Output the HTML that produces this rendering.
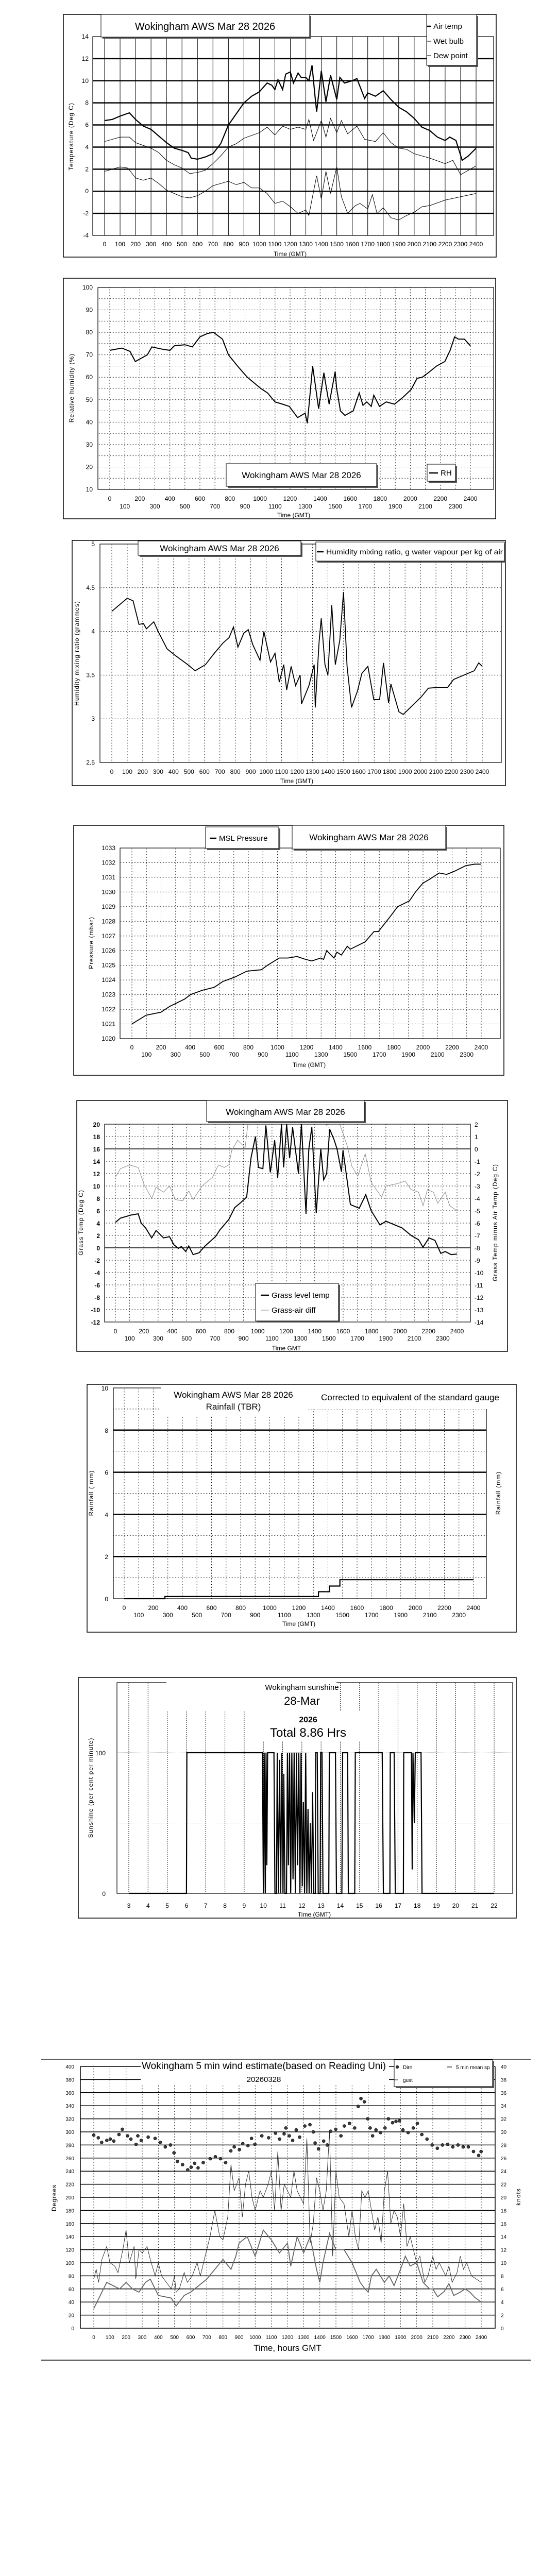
<!DOCTYPE html>
<html><head><meta charset="utf-8"><title>Wokingham AWS Mar 28 2026</title>
<style>
html,body{margin:0;padding:0;background:#fff;width:1050px;height:5085px;overflow:hidden;}
svg{display:block;}
text{font-family:"Liberation Sans Narrow","Liberation Sans",sans-serif;fill:#000;}
.tk{font-size:12px;}
.tks{font-size:10px;}
.ttl{font-size:20px;}
.ax{font-family:"Liberation Sans",sans-serif;font-size:12px;letter-spacing:1px;}
</style></head>
<body>
<svg id="page" width="1050" height="5085" viewBox="0 0 1050 5085" xmlns="http://www.w3.org/2000/svg">
<defs>
<clipPath id="clip5"><rect x="203" y="2182" width="710" height="384"/></clipPath>
<clipPath id="clip8"><rect x="156" y="4000" width="805" height="519"/></clipPath>
</defs>

<!-- CHART 1 -->
<g>
<rect x="123" y="28" width="840" height="471" fill="none" stroke="#000" stroke-width="1.5"/>
<g id="c1"></g>
<rect x="180" y="71" width="778" height="386" fill="none" stroke="#000" stroke-width="1.2"/>
<text class="ax" transform="translate(142,265) rotate(-90)" text-anchor="middle">Temperature (Deg C)</text>
<text class="tk" x="563" y="497" text-anchor="middle">Time (GMT)</text>
<rect x="199" y="31" width="405" height="44" fill="#555"/>
<rect x="196" y="28" width="405" height="44" fill="#fff" stroke="#000"/>
<text class="ttl" x="398" y="58" text-anchor="middle">Wokingham AWS Mar 28 2026</text>
<rect x="831" y="31" width="97" height="99" fill="#555"/>
<rect x="828" y="28" width="97" height="99" fill="#fff" stroke="#000"/>
<line x1="829" x2="837" y1="51" y2="51" stroke="#000" stroke-width="2.5"/>
<text x="841" y="56" font-size="15">Air temp</text>
<line x1="829" x2="837" y1="80" y2="80" stroke="#000" stroke-width="1"/>
<text x="841" y="85" font-size="15">Wet bulb</text>
<line x1="829" x2="837" y1="108" y2="108" stroke="#000" stroke-width="1"/>
<text x="841" y="113" font-size="15">Dew point</text>
</g>

<!-- CHART 2 -->
<g>
<rect x="123" y="540" width="839" height="467" fill="none" stroke="#000" stroke-width="1.5"/>
<g id="c2"></g>
<rect x="190" y="558" width="768" height="392" fill="none" stroke="#000" stroke-width="1.2"/>
<text class="ax" transform="translate(143,753) rotate(-90)" text-anchor="middle">Relative humidity (%)</text>
<text class="tk" x="570" y="1004" text-anchor="middle">Time (GMT)</text>
<rect x="442" y="903" width="292" height="44" fill="#555"/>
<rect x="439" y="900" width="292" height="44" fill="#fff" stroke="#000"/>
<text x="585" y="928" font-size="17" text-anchor="middle">Wokingham AWS Mar 28 2026</text>
<rect x="832" y="904" width="55" height="33" fill="#555"/>
<rect x="829" y="901" width="55" height="33" fill="#fff" stroke="#000"/>
<line x1="833" x2="850" y1="918" y2="918" stroke="#000" stroke-width="2.5"/>
<text x="855" y="923" font-size="15">RH</text>
</g>

<!-- CHART 3 -->
<g>
<rect x="140" y="1049" width="841" height="476" fill="none" stroke="#000" stroke-width="1.5"/>
<g id="c3"></g>
<rect x="194" y="1056" width="779" height="424" fill="none" stroke="#000" stroke-width="1.2"/>
<text class="ax" transform="translate(153,1268) rotate(-90)" text-anchor="middle">Humidity mixing ratio (grammes)</text>
<text class="tk" x="576" y="1520" text-anchor="middle">Time (GMT)</text>
<rect x="271" y="1053" width="316" height="28" fill="#555"/>
<rect x="268" y="1050" width="316" height="28" fill="#fff" stroke="#000"/>
<text x="426" y="1070" font-size="17" text-anchor="middle">Wokingham AWS Mar 28 2026</text>
<rect x="616" y="1055" width="366" height="37" fill="#555"/>
<rect x="613" y="1052" width="366" height="37" fill="#fff" stroke="#000"/>
<line x1="615" x2="628" y1="1071" y2="1071" stroke="#000" stroke-width="2.5"/>
<text x="633" y="1076" font-size="14" textLength="343" lengthAdjust="spacingAndGlyphs">Humidity mixing ratio, g water vapour per kg of air</text>
</g>

<!-- CHART 4 -->
<g>
<rect x="143" y="1602" width="835" height="485" fill="none" stroke="#000" stroke-width="1.5"/>
<g id="c4"></g>
<rect x="233" y="1646" width="738" height="370" fill="none" stroke="#000" stroke-width="1.2"/>
<text class="ax" transform="translate(181,1830) rotate(-90)" text-anchor="middle">Pressure (mbar)</text>
<text class="tk" x="600" y="2071" text-anchor="middle">Time (GMT)</text>
<rect x="402" y="1608" width="142" height="42" fill="#555"/>
<rect x="399" y="1605" width="142" height="42" fill="#fff" stroke="#000"/>
<line x1="407" x2="420" y1="1627" y2="1627" stroke="#000" stroke-width="2.5"/>
<text x="425" y="1632" font-size="15">MSL Pressure</text>
<rect x="570" y="1605" width="298" height="46" fill="#555"/>
<rect x="567" y="1602" width="298" height="46" fill="#fff" stroke="#000"/>
<text x="716" y="1631" font-size="17" text-anchor="middle">Wokingham AWS Mar 28 2026</text>
</g>

<!-- CHART 5 -->
<g>
<rect x="149" y="2136" width="836" height="487" fill="none" stroke="#000" stroke-width="1.5"/>
<g id="c5"></g>
<rect x="203" y="2182" width="710" height="384" fill="none" stroke="#000" stroke-width="1.2"/>
<text class="ax" transform="translate(161,2373) rotate(-90)" text-anchor="middle">Grass Temp (Deg C)</text>
<text class="ax" transform="translate(965,2373) rotate(-90)" text-anchor="middle">Grass Temp minus Air Temp (Deg C)</text>
<text class="tk" x="556" y="2621" text-anchor="middle">Time GMT</text>
<rect x="404" y="2139" width="306" height="41" fill="#555"/>
<rect x="401" y="2136" width="306" height="41" fill="#fff" stroke="#000"/>
<text x="554" y="2164" font-size="17" text-anchor="middle">Wokingham AWS Mar 28 2026</text>
<rect x="499" y="2494" width="161" height="73" fill="#555"/>
<rect x="496" y="2491" width="161" height="73" fill="#fff" stroke="#000"/>
<line x1="506" x2="522" y1="2514" y2="2514" stroke="#000" stroke-width="2.5"/>
<text x="527" y="2519" font-size="15">Grass level temp</text>
<line x1="506" x2="522" y1="2543" y2="2543" stroke="#888" stroke-width="1"/>
<text x="527" y="2548" font-size="15">Grass-air diff</text>
</g>

<!-- CHART 6 -->
<g>
<rect x="169" y="2687" width="833" height="481" fill="none" stroke="#000" stroke-width="1.5"/>
<g id="c6"></g>
<rect x="220" y="2694" width="724" height="409" fill="none" stroke="#000" stroke-width="1.2"/>
<rect x="312" y="2690" width="285" height="58" fill="#fff"/>
<rect x="597" y="2689" width="404" height="46" fill="#fff"/>
<text x="453" y="2713" font-size="17" text-anchor="middle">Wokingham AWS Mar 28 2026</text>
<text x="453" y="2736" font-size="17" text-anchor="middle">Rainfall (TBR)</text>
<text x="796" y="2718" font-size="17" text-anchor="middle">Corrected to equivalent of the standard gauge</text>
<text class="ax" transform="translate(181,2898) rotate(-90)" text-anchor="middle">Rainfall ( mm)</text>
<text class="ax" transform="translate(971,2898) rotate(-90)" text-anchor="middle">Rainfall (mm)</text>
<text class="tk" x="580" y="3156" text-anchor="middle">Time (GMT)</text>
</g>

<!-- CHART 7 -->
<g>
<rect x="152" y="3256" width="850" height="467" fill="none" stroke="#000" stroke-width="1.5"/>
<g id="c7"></g>
<rect x="227" y="3266" width="768" height="409" fill="none" stroke="#000" stroke-width="1.2"/>
<rect x="323" y="3262" width="330" height="60" fill="#fff"/>
<rect x="500" y="3322" width="206" height="57" fill="#fff"/>
<text x="586" y="3280" font-size="15" text-anchor="middle">Wokingham sunshine</text>
<text x="586" y="3309" font-size="22" text-anchor="middle">28-Mar</text>
<text x="598" y="3343" font-size="16" font-weight="bold" text-anchor="middle">2026</text>
<text x="598" y="3371" font-size="24" text-anchor="middle">Total 8.86 Hrs</text>
<text class="ax" transform="translate(180,3470) rotate(-90)" text-anchor="middle">Sunshine (per cent per minute)</text>
<text class="tk" x="610" y="3720" text-anchor="middle">Time (GMT)</text>
</g>

<!-- CHART 8 -->
<g>
<line x1="80" x2="1030" y1="3997" y2="3997" stroke="#000" stroke-width="1.2"/>
<line x1="80" x2="1030" y1="4581" y2="4581" stroke="#000" stroke-width="1.5"/>
<g id="c8"></g>
<rect x="273" y="3999" width="482" height="48" fill="#fff"/>
<text x="512" y="4016" font-size="19" text-anchor="middle">Wokingham 5 min wind estimate(based on Reading Uni)</text>
<text x="512" y="4041" font-size="15" text-anchor="middle">20260328</text>
<rect x="768" y="4001" width="191" height="52" fill="#555"/>
<rect x="765" y="3998" width="191" height="52" fill="#fff" stroke="#000"/>
<circle cx="771" cy="4012" r="2.8" fill="#333" stroke="#000" stroke-width="0.6"/>
<text x="782" y="4016" font-size="10">Dirn</text>
<line x1="868" x2="877" y1="4012" y2="4012" stroke="#666" stroke-width="2"/>
<text x="885" y="4016" font-size="10">5 min mean sp</text>
<line x1="765" x2="773" y1="4037" y2="4037" stroke="#000" stroke-width="1"/>
<text x="782" y="4041" font-size="10">gust</text>
<text class="ax" transform="translate(109,4266) rotate(-90)" text-anchor="middle" font-size="15">Degrees</text>
<text class="ax" transform="translate(1010,4264) rotate(-90)" text-anchor="middle" font-size="15">knots</text>
<text x="558" y="4563" font-size="17" text-anchor="middle">Time, hours GMT</text>
</g>
</svg>

<script>
// ---------- DATA ----------
const hourTicks = [0,100,200,300,400,500,600,700,800,900,1000,1100,1200,1300,1400,1500,1600,1700,1800,1900,2000,2100,2200,2300,2400];
const evenTicks = [0,200,400,600,800,1000,1200,1400,1600,1800,2000,2200,2400];
const oddTicks = [100,300,500,700,900,1100,1300,1500,1700,1900,2100,2300];

// Chart 1 temperature
const tempYTicks = [14,12,10,8,6,4,2,0,-2,-4];
const airT = [0,50,100,160,200,250,300,350,400,450,500,540,560,600,650,700,750,800,850,900,950,1000,1050,1080,1100,1120,1150,1170,1200,1220,1250,1270,1300,1320,1340,1360,1370,1400,1430,1460,1500,1520,1550,1600,1630,1680,1700,1750,1800,1850,1900,1950,2000,2050,2100,2150,2200,2230,2270,2310,2350,2400];
const airV = [6.4,6.5,6.8,7.1,6.5,5.9,5.6,5.0,4.4,3.9,3.7,3.5,3.0,2.9,3.1,3.4,4.3,6.0,7.0,8.0,8.6,9.0,9.8,9.6,9.2,10.1,9.2,10.6,10.8,9.8,10.7,10.3,10.3,10.0,11.4,8.5,7.2,10.9,8.1,10.5,8.3,10.3,9.8,10.0,10.2,8.4,8.9,8.6,9.1,8.3,7.6,7.2,6.6,5.8,5.5,4.9,4.6,4.9,4.6,2.8,3.2,3.9];
const wetT = [0,100,160,200,300,350,400,450,500,550,600,650,700,750,800,850,900,1000,1050,1100,1150,1200,1250,1300,1320,1350,1400,1430,1460,1500,1530,1570,1630,1680,1750,1800,1850,1900,1950,2000,2100,2200,2250,2300,2400];
const wetV = [4.5,4.9,4.9,4.4,3.9,3.5,2.8,2.4,2.1,1.6,1.7,1.9,2.5,3.2,4.0,4.3,4.8,5.3,5.8,5.1,5.9,5.6,5.8,5.6,6.5,4.6,6.4,4.9,6.6,5.3,6.4,5.2,5.9,4.7,4.5,5.3,4.4,3.9,3.8,3.4,3.0,2.5,2.8,1.5,2.3];
const dewT = [0,100,150,200,250,300,350,400,450,500,550,600,650,700,750,800,850,900,950,1000,1050,1100,1150,1200,1250,1300,1320,1350,1370,1400,1430,1460,1500,1530,1570,1620,1650,1700,1730,1760,1800,1850,1900,1950,2000,2050,2100,2200,2300,2400];
const dewV = [1.8,2.2,2.1,1.2,1.0,1.2,0.7,0.1,-0.2,-0.5,-0.6,-0.4,0.0,0.5,0.7,0.9,0.6,0.8,0.3,0.3,-0.2,-1.1,-0.9,-1.4,-2.0,-1.7,-2.2,0.0,1.4,-0.7,1.8,-0.2,2.2,-0.5,-2.0,-1.3,-1.1,-1.6,-0.3,-2.0,-1.5,-2.4,-2.6,-2.2,-1.9,-1.4,-1.3,-0.8,-0.5,-0.2];

// Chart 2 RH
const rhYTicks = [100,90,80,70,60,50,40,30,20,10];
const rhT = [0,80,135,170,250,280,350,400,430,500,550,600,650,690,750,790,850,915,1005,1050,1100,1150,1195,1250,1300,1315,1350,1390,1425,1460,1500,1510,1535,1565,1620,1660,1685,1710,1740,1757,1795,1840,1895,1950,2005,2045,2080,2120,2175,2230,2265,2295,2320,2360,2400];
const rhV = [72,73,71.5,67,70,73.5,72.5,72,74,74.5,73.5,78,79.5,80,77,70,65,60,55,53,49,48,47,42,44,39.5,65,46,62,48,62.5,55,45,43,45,53,47.5,49,47,52,47,49,48,51,54.5,59.5,60,62,65,67,72,78,77,77,74];

// Chart 3 mixing ratio
const mixYTicks = [5,4.5,4,3.5,3,2.5];
const mixT = [0,100,138,176,205,224,272,300,358,415,492,540,607,664,722,760,788,817,855,884,913,960,985,1028,1057,1085,1114,1133,1162,1191,1220,1229,1277,1311,1318,1343,1357,1381,1400,1425,1448,1477,1501,1524,1553,1592,1620,1659,1697,1735,1760,1793,1808,1860,1888,1946,2004,2051,2118,2176,2214,2281,2348,2377,2400];
const mixV = [4.23,4.38,4.35,4.08,4.09,4.03,4.11,4.00,3.80,3.72,3.62,3.55,3.62,3.75,3.87,3.93,4.05,3.82,3.98,4.02,3.85,3.67,4.00,3.65,3.75,3.42,3.62,3.33,3.60,3.38,3.50,3.17,3.38,3.62,3.13,3.88,4.15,3.62,3.50,4.30,3.62,3.90,4.45,3.60,3.13,3.32,3.52,3.60,3.22,3.22,3.64,3.18,3.40,3.08,3.05,3.15,3.25,3.35,3.36,3.36,3.45,3.50,3.55,3.64,3.60];

// Chart 4 pressure
const presYTicks = [1033,1032,1031,1030,1029,1028,1027,1026,1025,1024,1023,1022,1021,1020];
const presT = [0,98,199,260,362,402,484,565,626,707,789,890,931,1012,1073,1134,1195,1236,1297,1317,1338,1388,1409,1439,1480,1500,1602,1663,1693,1765,1826,1907,1948,1999,2050,2111,2162,2213,2294,2355,2400];
const presV = [1021.0,1021.6,1021.8,1022.2,1022.7,1023.0,1023.3,1023.5,1023.9,1024.2,1024.6,1024.7,1025.0,1025.5,1025.5,1025.6,1025.4,1025.3,1025.5,1025.4,1026.0,1025.5,1025.9,1025.7,1026.3,1026.1,1026.6,1027.3,1027.3,1028.2,1029.0,1029.4,1030.0,1030.6,1030.9,1031.3,1031.2,1031.4,1031.8,1031.9,1031.9];

// Chart 5 grass
const grassYTicks = [20,18,16,14,12,10,8,6,4,2,0,-2,-4,-6,-8,-10,-12];
const diffYTicks = [2,1,0,-1,-2,-3,-4,-5,-6,-7,-8,-9,-10,-11,-12,-13,-14];
const grT = [0,35,110,160,181,213,255,286,338,380,411,442,463,494,515,546,588,630,703,734,797,838,880,922,953,984,1005,1036,1057,1088,1119,1140,1167,1182,1203,1224,1245,1286,1307,1339,1359,1380,1411,1443,1463,1484,1505,1536,1557,1588,1599,1651,1713,1759,1797,1859,1901,1963,2015,2078,2130,2161,2203,2245,2286,2317,2359,2400];
const grV = [4.1,4.8,5.3,5.5,4.0,3.2,1.6,2.8,1.6,1.8,0.5,-0.1,0.2,-0.6,0.3,-1.1,-0.8,0.3,1.8,2.9,4.6,6.5,7.3,8.2,14.6,18.0,13.0,12.8,19.8,12.2,17.4,11.3,20,13,20,14.5,19.5,12.0,20,5.5,16,19.5,5.6,16,11,12,19.2,17.5,16.0,12.3,15.8,7.0,6.4,8.6,6.0,3.7,4.3,3.7,3.2,2.0,1.3,0.1,1.6,1.2,-0.9,-0.6,-1.1,-1.0];
const dfT = [0,35,98,160,202,255,286,338,380,421,473,515,546,609,682,724,765,797,818,859,911,932,1005,1213,1421,1484,1546,1630,1661,1703,1755,1797,1870,1901,1984,2036,2078,2130,2161,2192,2234,2265,2317,2349,2400];
const dfV = [-2.3,-1.6,-1.3,-1.5,-2.9,-4.0,-3.1,-3.5,-3.0,-4.1,-4.2,-3.4,-4.1,-3.0,-2.3,-1.3,-1.5,-1.3,-0.1,0.7,0.1,2.1,3,3,3,1.9,3,0.2,-1.4,-2.2,-0.4,-2.7,-3.9,-3.0,-2.8,-2.6,-3.3,-3.5,-4.6,-3.3,-3.5,-4.4,-3.5,-4.6,-5.0];

// Chart 6 rainfall
const rainYTicks = [10,8,6,4,2,0];
const rainT = [0,280,280,1335,1335,1410,1410,1482,1482,2400];
const rainV = [0,0,0.1,0.1,0.33,0.33,0.6,0.6,0.9,0.9];

// Chart 7 sunshine
const sunXTicks = [3,4,5,6,7,8,9,10,11,12,13,14,15,16,17,18,19,20,21,22];
const sunYTicks = [100,0];
const sunT = [3,6,6.02,9.95,10.0,10.04,10.1,10.14,10.18,10.22,10.55,10.6,10.68,10.72,10.78,10.84,10.9,10.96,11.02,11.06,11.12,11.2,11.25,11.3,11.36,11.42,11.48,11.54,11.6,11.66,11.72,11.78,11.84,11.9,11.96,12.02,12.08,12.14,12.2,12.26,12.32,12.38,12.44,12.5,12.56,12.62,12.7,12.72,12.8,12.85,12.95,12.98,13.05,13.1,13.4,13.43,13.75,13.8,14.08,14.12,14.38,14.42,14.75,14.78,16.18,16.24,16.58,16.6,16.8,16.86,17.28,17.3,17.7,17.74,17.78,17.85,17.9,18.2,18.25,22];
const sunV = [0,0,100,100,0,100,0,100,20,100,100,0,0,100,0,95,0,100,0,85,0,0,100,20,100,0,100,10,100,0,100,20,100,0,100,5,65,0,100,0,60,0,50,0,72,0,0,100,100,0,0,100,100,0,0,100,100,0,0,100,100,0,0,100,100,0,0,100,100,0,0,100,100,17,100,50,100,100,0,0];

// Chart 8 wind
const degYTicks = [400,380,360,340,320,300,280,260,240,220,200,180,160,140,120,100,80,60,40,20,0];
const knotYTicks = [40,38,36,34,32,30,28,26,24,22,20,18,16,14,12,10,8,6,4,2,0];
const dirT = [0,28,49,81,102,124,156,177,209,230,262,273,294,337,380,412,443,475,497,518,550,582,603,625,646,678,721,753,785,817,849,870,902,923,955,977,998,1041,1083,1126,1151,1179,1190,1211,1232,1254,1275,1307,1339,1360,1371,1392,1424,1446,1467,1499,1531,1552,1584,1616,1638,1655,1676,1697,1712,1727,1748,1776,1804,1825,1851,1872,1893,1915,1947,1979,2004,2032,2064,2096,2128,2160,2192,2224,2256,2288,2320,2352,2384,2399];
const dirV = [295,291,284,287,289,286,296,304,294,289,281,294,287,292,290,284,277,280,268,255,250,242,246,252,245,253,259,262,259,253,271,277,273,282,279,290,281,294,291,298,289,297,306,294,287,303,292,309,311,300,283,274,286,280,301,304,294,309,313,306,339,351,346,320,306,294,303,299,306,320,314,316,317,303,299,306,313,296,289,280,275,280,281,277,280,277,277,270,264,270];
const gustT = [0,15,30,50,80,100,130,150,180,200,220,250,260,280,300,330,350,380,400,420,450,480,500,510,530,560,580,610,640,660,700,720,750,780,800,830,850,870,900,920,940,960,980,1000,1030,1050,1080,1100,1120,1140,1160,1180,1200,1220,1240,1260,1280,1300,1320,1340,1360,1380,1400,1420,1440,1460,1480,1500,1520,1550,1580,1600,1620,1640,1660,1680,1700,1720,1740,1760,1780,1800,1820,1840,1860,1880,1900,1920,1940,1960,1980,2000,2020,2050,2070,2100,2120,2140,2160,2180,2200,2220,2250,2270,2290,2310,2340,2370,2400];
const gustV = [7.5,9,7,10.5,12.5,10,9.5,8.5,12,15,10,12.5,7.5,12,11.5,12.5,10.5,8,10,8,7,6,8,5.5,6,8.5,7,8,10,8,12,14,18,14,13.5,17,25,21,23,17,22,24,20,18,21,20,22,24,18,27,18,22,21,20,24,21,20,19,29,13,16,23,21,18,21,30,11,24,20,19,14,18,14,12,21,20,21,18,15,17,13,21,24,16,18,17,14,19,12.5,14,12,10,11,7,8,11,9,10,9,8,9.5,7,8.5,11,9,10,8,7.5,7];
const meanT = [0,30,60,80,120,160,200,240,280,320,350,380,400,440,480,510,560,600,650,700,750,800,850,880,900,950,1000,1050,1100,1150,1200,1220,1260,1300,1340,1380,1400,1420,1460,1500,1550,1600,1650,1680,1700,1720,1750,1800,1830,1860,1900,1930,1960,2000,2040,2080,2100,2130,2170,2200,2230,2270,2300,2330,2360,2400];
const meanV = [3,4.5,6,7,6.5,6,7,6,5.5,7,7.5,6,5,4.8,4.6,3.4,5.0,5.5,6.5,7.5,9,10.5,9,11,13,14,11,15,13.5,11.5,13,9.5,14,11.5,14,9,7,10,14.5,12,12,10,7,6,5.5,8,9,7,8,6.5,9,11,9.5,10,7,6,6,4.8,5.6,6.8,5.0,5.5,6,5.5,4.7,4];

// ---------- HELPERS ----------
const NS = 'http://www.w3.org/2000/svg';
function mk(tag, a, parent){ const e=document.createElementNS(NS,tag); for(const k in a) e.setAttribute(k,a[k]); parent.appendChild(e); return e; }
function lin(d0,d1,p0,p1){ return v => p0+(v-d0)*(p1-p0)/(d1-d0); }
function pathD(xs,ys,X,Y){ return xs.map((t,i)=>(i?'L':'M')+X(t).toFixed(1)+','+Y(ys[i]).toFixed(1)).join(''); }
function txt(parent,x,y,s,cls,anchor,extra){ const t=mk('text',Object.assign({x:x,y:y,class:cls,'text-anchor':anchor},extra||{}),parent); t.textContent=s; return t; }

// ---------- CHART 1 ----------
(function(){
  const g=document.getElementById('c1');
  const X=lin(0,2400,203,924), Y=lin(-4,14,457,71);
  hourTicks.forEach(t=>{
    const l=mk('line',{x1:X(t),x2:X(t),y1:71,y2:457,stroke:'#000','stroke-width':1},g);
    
    
    const s=txt(g,X(t),478,String(t),'tk','middle');
    
    
  });
  tempYTicks.forEach(v=>{
    if(v!==14 && v!==-4){
      const l=mk('line',{x1:180,x2:958,y1:Y(v),y2:Y(v),stroke:'#000','stroke-width':2.5},g);
      
      
    }
    const s=txt(g,172,Y(v)+4,String(v),'tk','end');
    
    
  });
  const p1=mk('path',{d:pathD(dewT,dewV,X,Y),fill:'none',stroke:'#000','stroke-width':1},g);
  
  
  const p2=mk('path',{d:pathD(wetT,wetV,X,Y),fill:'none',stroke:'#000','stroke-width':1},g);
  
  
  const p3=mk('path',{d:pathD(airT,airV,X,Y),fill:'none',stroke:'#000','stroke-width':2.2},g);
  
  
})();

// ---------- CHART 2 ----------
(function(){
  const g=document.getElementById('c2');
  const X=lin(0,2400,213,913), Y=lin(10,100,950,558);
  hourTicks.forEach(t=>{
    const l=mk('line',{x1:X(t),x2:X(t),y1:558,y2:950,stroke:'#000','stroke-width':1,'stroke-dasharray':'1,2'},g);
    
    
  });
  evenTicks.forEach(t=>{
    const s=txt(g,X(t),972,String(t),'tk','middle');
    
    
  });
  oddTicks.forEach(t=>{
    const s=txt(g,X(t),987,String(t),'tk','middle');
    
    
  });
  rhYTicks.forEach(v=>{
    [v, v-5].forEach(w=>{
      if(w>10 && w<100){
        const l=mk('line',{x1:190,x2:958,y1:Y(w),y2:Y(w),stroke:'#000','stroke-width':1,'stroke-dasharray':'1,2'},g);
        
        
      }
    });
    const s=txt(g,180,Y(v)+4,String(v),'tk','end');
    
    
  });
  const p=mk('path',{d:pathD(rhT,rhV,X,Y),fill:'none',stroke:'#000','stroke-width':2},g);
  
  
})();

// ---------- CHART 3 ----------
(function(){
  const g=document.getElementById('c3');
  const X=lin(0,2400,217,936), Y=lin(2.5,5,1480,1056);
  hourTicks.forEach(t=>{
    const l=mk('line',{x1:X(t),x2:X(t),y1:1056,y2:1480,stroke:'#000','stroke-width':1,'stroke-dasharray':'1,2'},g);
    
    
    const s=txt(g,X(t),1502,String(t),'tk','middle');
    
    
  });
  mixYTicks.forEach(v=>{
    if(v<5 && v>2.5){
      const l=mk('line',{x1:194,x2:973,y1:Y(v),y2:Y(v),stroke:'#000','stroke-width':1,'stroke-dasharray':'1,2'},g);
      
      
    }
    const s=txt(g,184,Y(v)+4,String(v),'tk','end');
    
    
  });
  const p=mk('path',{d:pathD(mixT,mixV,X,Y),fill:'none',stroke:'#000','stroke-width':1.8},g);
  
  
})();

// ---------- CHART 4 ----------
(function(){
  const g=document.getElementById('c4');
  const X=lin(0,2400,256,934), Y=lin(1020,1033,2016,1646);
  hourTicks.forEach(t=>{
    const l=mk('line',{x1:X(t),x2:X(t),y1:1646,y2:2016,stroke:'#000','stroke-width':1,'stroke-dasharray':'1,2'},g);
    
    
  });
  evenTicks.forEach(t=>{
    const s=txt(g,X(t),2037,String(t),'tk','middle');
    
    
  });
  oddTicks.forEach(t=>{
    const s=txt(g,X(t),2051,String(t),'tk','middle');
    
    
  });
  presYTicks.forEach(v=>{
    if(v<1033 && v>1020){
      const l=mk('line',{x1:233,x2:971,y1:Y(v),y2:Y(v),stroke:'#000','stroke-width':1,'stroke-dasharray':'1,2'},g);
      
      
    }
    const s=txt(g,224,Y(v)+4,String(v),'tk','end');
    
    
  });
  const p=mk('path',{d:pathD(presT,presV,X,Y),fill:'none',stroke:'#000','stroke-width':1.8},g);
  
  
})();

// ---------- CHART 5 ----------
(function(){
  const g=document.getElementById('c5');
  const X=lin(0,2400,224,887), Y=lin(-12,20,2566,2182), YR=lin(-14,2,2566,2182);
  hourTicks.forEach(t=>{
    const l=mk('line',{x1:X(t),x2:X(t),y1:2182,y2:2566,stroke:'#000','stroke-width':1,'stroke-dasharray':'1,2'},g);
    
    
  });
  evenTicks.forEach(t=>{
    const s=txt(g,X(t),2588,String(t),'tk','middle');
    
    
  });
  oddTicks.forEach(t=>{
    const s=txt(g,X(t),2602,String(t),'tk','middle');
    
    
  });
  grassYTicks.forEach(v=>{
    if(v<20 && v>-12){
      const solid=(v===16||v===0);
      const l=mk('line',{x1:203,x2:913,y1:Y(v),y2:Y(v),stroke:'#000','stroke-width':solid?1.5:1,'stroke-dasharray':solid?'none':'1,2'},g);
      
      
    }
    const s=txt(g,194,Y(v)+5,String(v),'tk','end',{'font-weight':'bold'});
    
    
  });
  diffYTicks.forEach(v=>{
    const s=txt(g,921,YR(v)+5,String(v),'tk','start');
    
    
  });
  const cg=mk('g',{'clip-path':'url(#clip5)'},g);
  
  
  const p1=mk('path',{d:pathD(dfT,dfV,X,YR),fill:'none',stroke:'#888','stroke-width':1},cg);
  
  
  const p2=mk('path',{d:pathD(grT,grV,X,Y),fill:'none',stroke:'#000','stroke-width':2},cg);
  
  
})();

// ---------- CHART 6 ----------
(function(){
  const g=document.getElementById('c6');
  const X=lin(0,2400,241,919), Y=lin(0,10,3103,2694);
  hourTicks.forEach(t=>{
    const l=mk('line',{x1:X(t),x2:X(t),y1:2694,y2:3103,stroke:'#000','stroke-width':1,'stroke-dasharray':'1,2'},g);
    
    
  });
  evenTicks.forEach(t=>{
    const s=txt(g,X(t),3125,String(t),'tk','middle');
    
    
  });
  oddTicks.forEach(t=>{
    const s=txt(g,X(t),3139,String(t),'tk','middle');
    
    
  });
  rainYTicks.forEach(v=>{
    if(v>0 && v<10){
      const l=mk('line',{x1:220,x2:944,y1:Y(v),y2:Y(v),stroke:'#000','stroke-width':2.5},g);
      
      
    }
    if(v<10){
      const m=mk('line',{x1:220,x2:944,y1:Y(v+1),y2:Y(v+1),stroke:'#000','stroke-width':1,'stroke-dasharray':'1,2'},g);
      
      
    }
    const s=txt(g,210,Y(v)+5,String(v),'tk','end');
    
    
  });
  const p=mk('path',{d:pathD(rainT,rainV,X,Y),fill:'none',stroke:'#000','stroke-width':2.2},g);
  
  
})();

// ---------- CHART 7 ----------
(function(){
  const g=document.getElementById('c7');
  const X=lin(3,22,250,959), Y=lin(0,100,3675,3402);
  sunXTicks.forEach(h=>{
    const l=mk('line',{x1:X(h),x2:X(h),y1:3266,y2:3675,stroke:'#000','stroke-width':1,'stroke-dasharray':'2,2'},g);
    
    
    const s=txt(g,X(h),3703,String(h),'tk','middle',{'font-size':'17'});
    
    
  });
  [100,50].forEach(v=>{
    const l=mk('line',{x1:227,x2:995,y1:Y(v),y2:Y(v),stroke:'#999','stroke-width':1,'stroke-dasharray':'1,1'},g);
    
    
  });
  sunYTicks.forEach(v=>{
    const s=txt(g,205,Y(v)+5,String(v),'tk','end');
    
    
  });
  const p=mk('path',{d:pathD(sunT,sunV,X,Y),fill:'none',stroke:'#000','stroke-width':2.2},g);
  
  
})();

// ---------- CHART 8 ----------
(function(){
  const g=document.getElementById('c8');
  const X=lin(0,2400,182,934), Y=lin(0,400,4519,4011), YK=lin(0,40,4519,4011);
  hourTicks.forEach(t=>{
    const l=mk('line',{x1:X(t),x2:X(t),y1:4011,y2:4519,stroke:'#000','stroke-width':1,'stroke-dasharray':'1,2'},g);
    
    
    const s=txt(g,X(t),4540,String(t),'tks','middle');
    
    
  });
  degYTicks.forEach(v=>{
    if(v>0){
      const l=mk('line',{x1:156,x2:961,y1:Y(v),y2:Y(v),stroke:'#000','stroke-width':1.5},g);
      
      
    }
    const s=txt(g,144,Y(v)+4,String(v),'tks','end');
    
    
  });
  knotYTicks.forEach(v=>{
    const s=txt(g,972,YK(v)+4,String(v),'tks','start');
    
    
  });
  const ax=mk('path',{d:'M156,4011V4519H961V4011',fill:'none',stroke:'#000','stroke-width':1.5},g);
  
  
  const cg=mk('g',{'clip-path':'url(#clip8)'},g);
  
  
  const pg=mk('path',{d:pathD(gustT,gustV,X,YK),fill:'none',stroke:'#222','stroke-width':0.9},cg);
  
  
  const pm=mk('path',{d:pathD(meanT,meanV,X,YK),fill:'none',stroke:'#666','stroke-width':1.8},cg);
  
  
  dirT.forEach((t,i)=>{
    const c=mk('circle',{cx:X(t),cy:Y(dirV[i]),r:3,fill:'#3a3a3a',stroke:'#000','stroke-width':0.6},cg);
    
    
  });
})();
</script>
</body></html>
